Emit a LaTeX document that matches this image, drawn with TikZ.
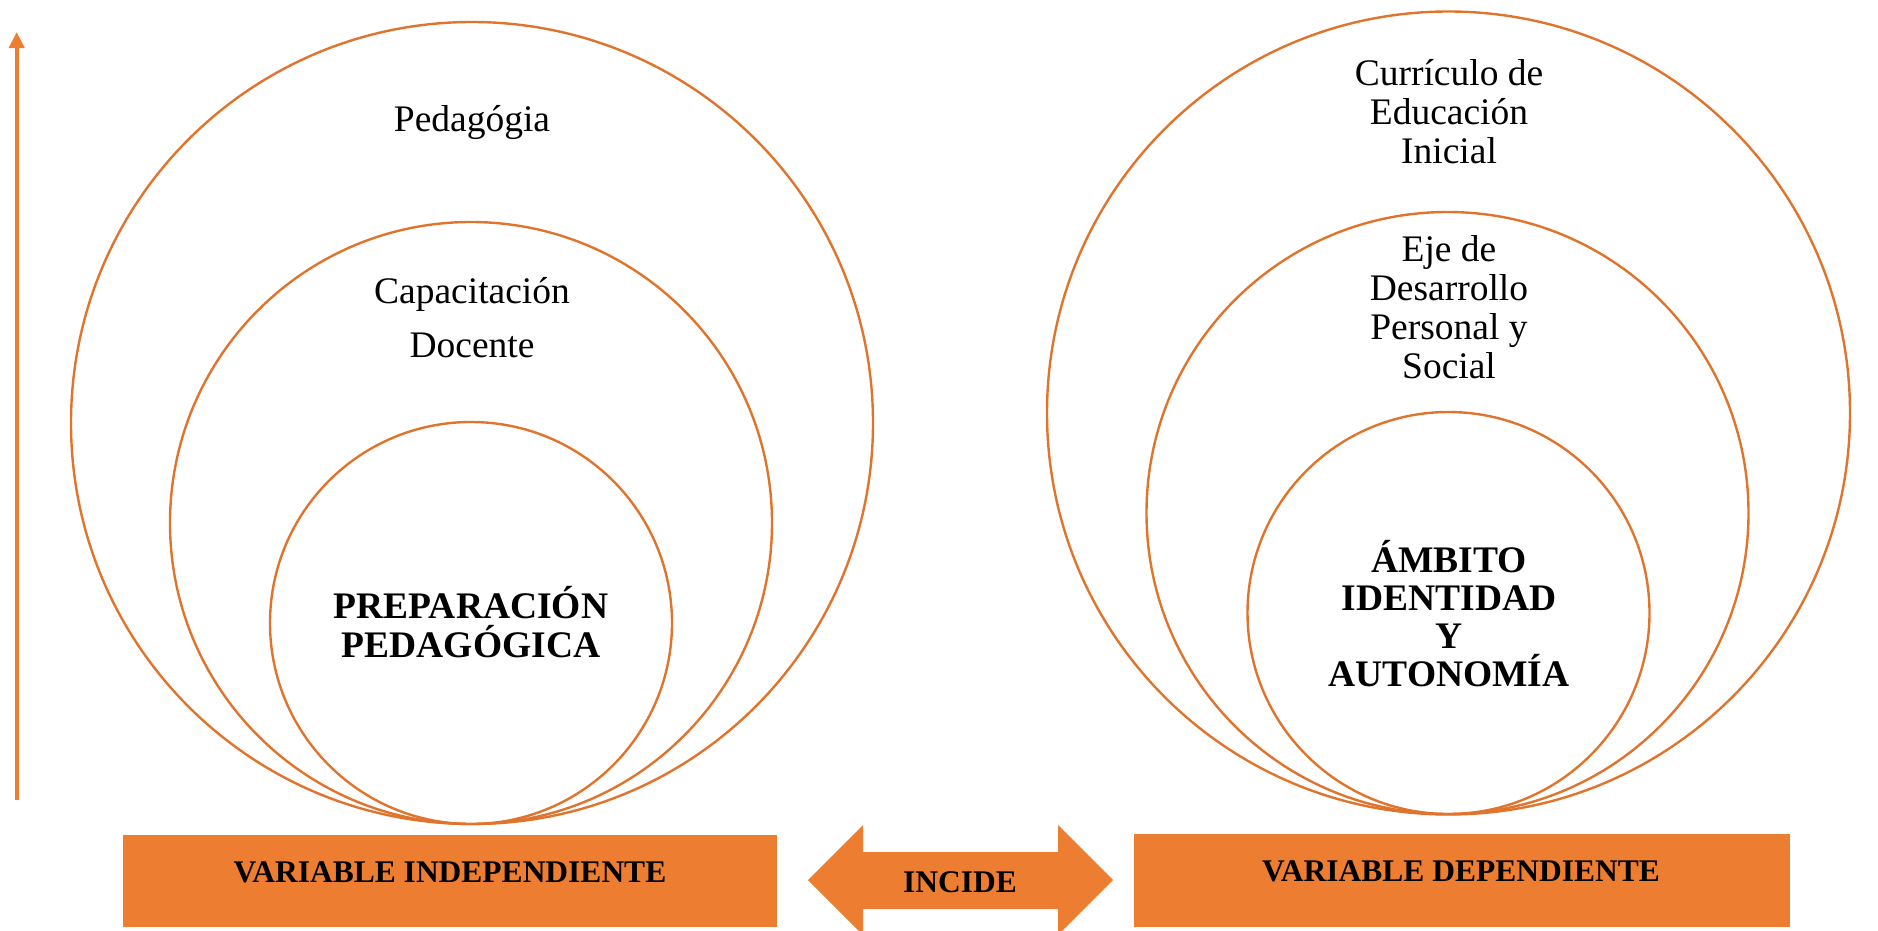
\documentclass[tikz,border=0pt]{standalone}
\usepackage{fontspec}
\setmainfont{Liberation Serif}
\usetikzlibrary{arrows.meta}
\definecolor{orng}{HTML}{ED7D31}
\definecolor{ringc}{HTML}{E0742C}
\begin{document}
\begin{tikzpicture}[x=1bp,y=-1bp,
  ring/.style={circle, draw=ringc, line width=2.4bp, inner sep=0pt, minimum size=#1},
  lbl/.style={align=center, inner sep=0pt, font=\fontsize{37.5bp}{54bp}\selectfont},
  lbltight/.style={align=center, inner sep=0pt, font=\fontsize{37.5bp}{39bp}\selectfont},
  bold/.style={align=center, inner sep=0pt, font=\fontsize{37.5bp}{39.5bp}\selectfont\bfseries},
  bar/.style={fill=orng, inner sep=0pt},
  bartext/.style={inner sep=0pt, font=\fontsize{31.5bp}{36bp}\selectfont\bfseries}]
\useasboundingbox (0,0) rectangle (1878,931);

% left circles
\node[ring=802bp] (lo) at (472,423) {};
\node[ring=602bp] (lm) at (471,523) {};
\node[ring=402bp] (li) at (471,623) {};
% right circles
\node[ring=803bp] (ro) at (1448.5,413) {};
\node[ring=602bp] (rm) at (1447.5,513) {};
\node[ring=402bp] (ri) at (1448.5,613) {};

% left texts
\node[lbl] (t1) at (472,123) {Pedagógia};
\node[lbl] (t2) at (472,318) {Capacitación\\Docente};
\node[bold] (t3) at (471,622) {PREPARACIÓN\\PEDAGÓGICA};
% right texts
\node[lbltight] (t4) at (1449,112) {Currículo de\\Educación\\Inicial};
\node[lbltight] (t5) at (1449,307) {Eje de\\Desarrollo\\Personal y\\Social};
\node[bold,font=\fontsize{37.5bp}{38bp}\selectfont\bfseries] (t6) at (1449,614) {ÁMBITO\\IDENTIDAD\\Y\\AUTONOMÍA};

% vertical arrow
\coordinate (abot) at (16.7,800);
\coordinate (atop) at (16.7,32);
\draw[orng, line width=4bp, -{Triangle[width=15bp,length=16bp]}] (abot) -- (atop);

% bottom bars
\node[bar, minimum width=654bp, minimum height=92bp] (vi) at (450,881) {};
\node[bartext] (vit) at (450,872) {VARIABLE INDEPENDIENTE};
\node[bar, minimum width=656bp, minimum height=93bp] (vd) at (1462,880.5) {};
\node[bartext] (vdt) at (1461,871) {VARIABLE DEPENDIENTE};

% double arrow
\fill[orng] (808,880) -- (863,825) -- (863,852) -- (1058,852) -- (1058,825)
  -- (1113,880) -- (1058,935) -- (1058,909) -- (863,909) -- (863,935) -- cycle;
\node[bartext] (inc) at (960,882) {INCIDE};
\end{tikzpicture}
\end{document}
